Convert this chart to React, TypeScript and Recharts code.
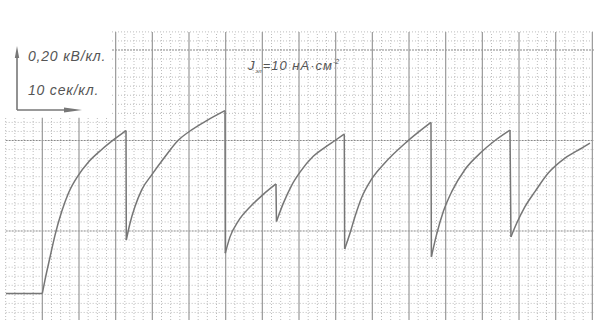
import React from 'react';
import { LineChart, Line, XAxis, YAxis, ReferenceLine } from 'recharts';

// time in seconds (10 s per major column), voltage in kV (0.20 kV per major row)
const baseline = [
  { t: -9.9, v: 0.062 },
  { t: -5, v: 0.062 },
  { t: 0, v: 0.062 },
];

// one array per charging sweep, from the bottom of the sweep up to its peak
const sweep1 = [
  { t: 0, v: 0.062 }, { t: 0.73, v: 0.092 }, { t: 2.09, v: 0.142 }, { t: 3.46, v: 0.191 },
  { t: 5.28, v: 0.243 }, { t: 7.08, v: 0.283 }, { t: 9.81, v: 0.323 }, { t: 12.54, v: 0.352 },
  { t: 16.19, v: 0.38 }, { t: 19.82, v: 0.404 }, { t: 22.82, v: 0.422 },
];
const sweep2 = [
  { t: 22.9, v: 0.18 }, { t: 23.91, v: 0.217 }, { t: 25.27, v: 0.254 }, { t: 27.1, v: 0.291 },
  { t: 29.83, v: 0.324 }, { t: 33.45, v: 0.364 }, { t: 37.0, v: 0.4 }, { t: 40.27, v: 0.421 },
  { t: 44.82, v: 0.444 }, { t: 49.81, v: 0.466 },
];
const sweep3 = [
  { t: 49.9, v: 0.151 }, { t: 51.18, v: 0.187 }, { t: 53.44, v: 0.222 }, { t: 56.63, v: 0.253 },
  { t: 60.26, v: 0.281 }, { t: 63.72, v: 0.304 },
];
const sweep4 = [
  { t: 63.85, v: 0.221 }, { t: 65.71, v: 0.261 }, { t: 68.0, v: 0.301 }, { t: 70.27, v: 0.33 },
  { t: 73.89, v: 0.365 }, { t: 77.08, v: 0.385 }, { t: 79.81, v: 0.4 }, { t: 82.35, v: 0.414 },
];
const sweep5 = [
  { t: 82.45, v: 0.16 }, { t: 83.9, v: 0.195 }, { t: 85.27, v: 0.232 }, { t: 87.09, v: 0.274 },
  { t: 89.82, v: 0.315 }, { t: 93.45, v: 0.351 }, { t: 99.37, v: 0.397 }, { t: 105.99, v: 0.44 },
];
const sweep6 = [
  { t: 106.1, v: 0.143 }, { t: 107.55, v: 0.193 }, { t: 109.4, v: 0.244 }, { t: 111.72, v: 0.288 },
  { t: 115.27, v: 0.336 }, { t: 119.82, v: 0.375 }, { t: 123.45, v: 0.4 }, { t: 127.54, v: 0.423 },
];
const sweep7 = [
  { t: 127.8, v: 0.187 }, { t: 129.36, v: 0.217 }, { t: 131.63, v: 0.254 }, { t: 134.35, v: 0.287 },
  { t: 137.98, v: 0.328 }, { t: 142.53, v: 0.361 }, { t: 147.09, v: 0.383 }, { t: 149.35, v: 0.394 },
];

const sweeps = [sweep1, sweep2, sweep3, sweep4, sweep5, sweep6, sweep7];
// fast discharges: peak of one sweep straight down to the start of the next, split by gaps
const drops = sweeps.slice(0, -1).flatMap((s, i) => {
  const top = s[s.length - 1];
  const bottom = sweeps[i + 1][0];
  return [top, bottom, { t: bottom.t, v: null }];
});

const T_MIN = -11.545;
const T_MAX = 150.45;
const V_MIN = 0.0033;
const V_MAX = 0.7105;

const majorT: number[] = [];
for (let t = 0; t <= 150; t += 10) majorT.push(t);
const minorT: number[] = [];
for (let t = -10; t <= 150; t += 2.5) if (t % 10 !== 0 || t < 0) minorT.push(t);
const majorV = [0.2, 0.4, 0.6];
const minorV: number[] = [];
for (let k = 1; k <= 32; k++) if (k % 10 !== 0) minorV.push(+(k * 0.02).toFixed(2));

// the scale box at top left keeps the grid out
const BOX_T = 19;
const BOX_V = 0.45;
const GRID_TOP = 0.64;

const TRACE = '#767676';

const vTop = (t: number) => (t < BOX_T ? BOX_V : GRID_TOP);
const tStart = (v: number) => (v > BOX_V ? BOX_T : -10);

export default function App() {
  return (
    <div style={{ position: 'absolute', left: 0, top: 0, width: 594, height: 320, background: '#fff' }}>
      <LineChart width={594} height={320} margin={{ top: 0, right: 0, bottom: 0, left: 0 }}>
        <XAxis dataKey="t" type="number" domain={[T_MIN, T_MAX]} allowDataOverflow hide />
        <YAxis type="number" domain={[V_MIN, V_MAX]} allowDataOverflow hide />
        {minorT.map((t) => (
          <ReferenceLine key={`mt${t}`} segment={[{ x: t, y: V_MIN }, { x: t, y: vTop(t) }]}
            stroke="#bdbdbd" strokeDasharray="1 2" ifOverflow="visible" />
        ))}
        {minorV.map((v) => (
          <ReferenceLine key={`mv${v}`} segment={[{ x: tStart(v), y: v }, { x: T_MAX, y: v }]}
            stroke="#bdbdbd" strokeDasharray="1 2" ifOverflow="visible" />
        ))}
        {majorV.map((v) => (
          <ReferenceLine key={`Mv${v}`} segment={[{ x: tStart(v), y: v }, { x: T_MAX, y: v }]}
            stroke="#888" strokeDasharray="2 1" ifOverflow="visible" />
        ))}
        {majorT.map((t) => (
          <ReferenceLine key={`Mt${t}`} segment={[{ x: t, y: V_MIN }, { x: t, y: vTop(t) }]}
            stroke="#999" strokeWidth={1.2} ifOverflow="visible" />
        ))}
        <Line data={baseline} dataKey="v" type="linear" dot={false} activeDot={false}
          stroke={TRACE} strokeWidth={1.5} isAnimationActive={false} />
        <Line data={drops} dataKey="v" type="linear" dot={false} activeDot={false}
          stroke={TRACE} strokeWidth={1.5} isAnimationActive={false} />
        {sweeps.map((s, i) => (
          <Line key={`s${i}`} data={s} dataKey="v" type="monotone" dot={false} activeDot={false}
            stroke={TRACE} strokeWidth={1.5} isAnimationActive={false} />
        ))}
      </LineChart>
      <svg width={594} height={320} style={{ position: 'absolute', left: 0, top: 0, pointerEvents: 'none' }}>
        <g stroke="#777" strokeWidth={1.6} fill="none">
          <line x1={17} y1={110} x2={17} y2={56} />
          <line x1={17} y1={110} x2={72} y2={110} />
        </g>
        <polygon points="17,46 14.8,58 19.2,58" fill="#777" />
        <polygon points="82,110 64,107.6 64,112.4" fill="#777" />
        <g fill="#555" fontFamily="'Liberation Sans', Arial, sans-serif" fontStyle="italic">
          <text x={28} y={61} fontSize={14} letterSpacing={0.8}>0,20 кВ/кл.</text>
          <text x={28} y={95} fontSize={14} letterSpacing={0.8}>10 сек/кл.</text>
          <text x={248} y={69.5} fontSize={13} letterSpacing={1}>
            J
            <tspan fontSize={6} dy={3} letterSpacing={0}>эл</tspan>
            <tspan dy={-3} dx={1}>=10 нА·см</tspan>
            <tspan fontSize={7} dy={-6} letterSpacing={0}>-2</tspan>
          </text>
        </g>
      </svg>
    </div>
  );
}
